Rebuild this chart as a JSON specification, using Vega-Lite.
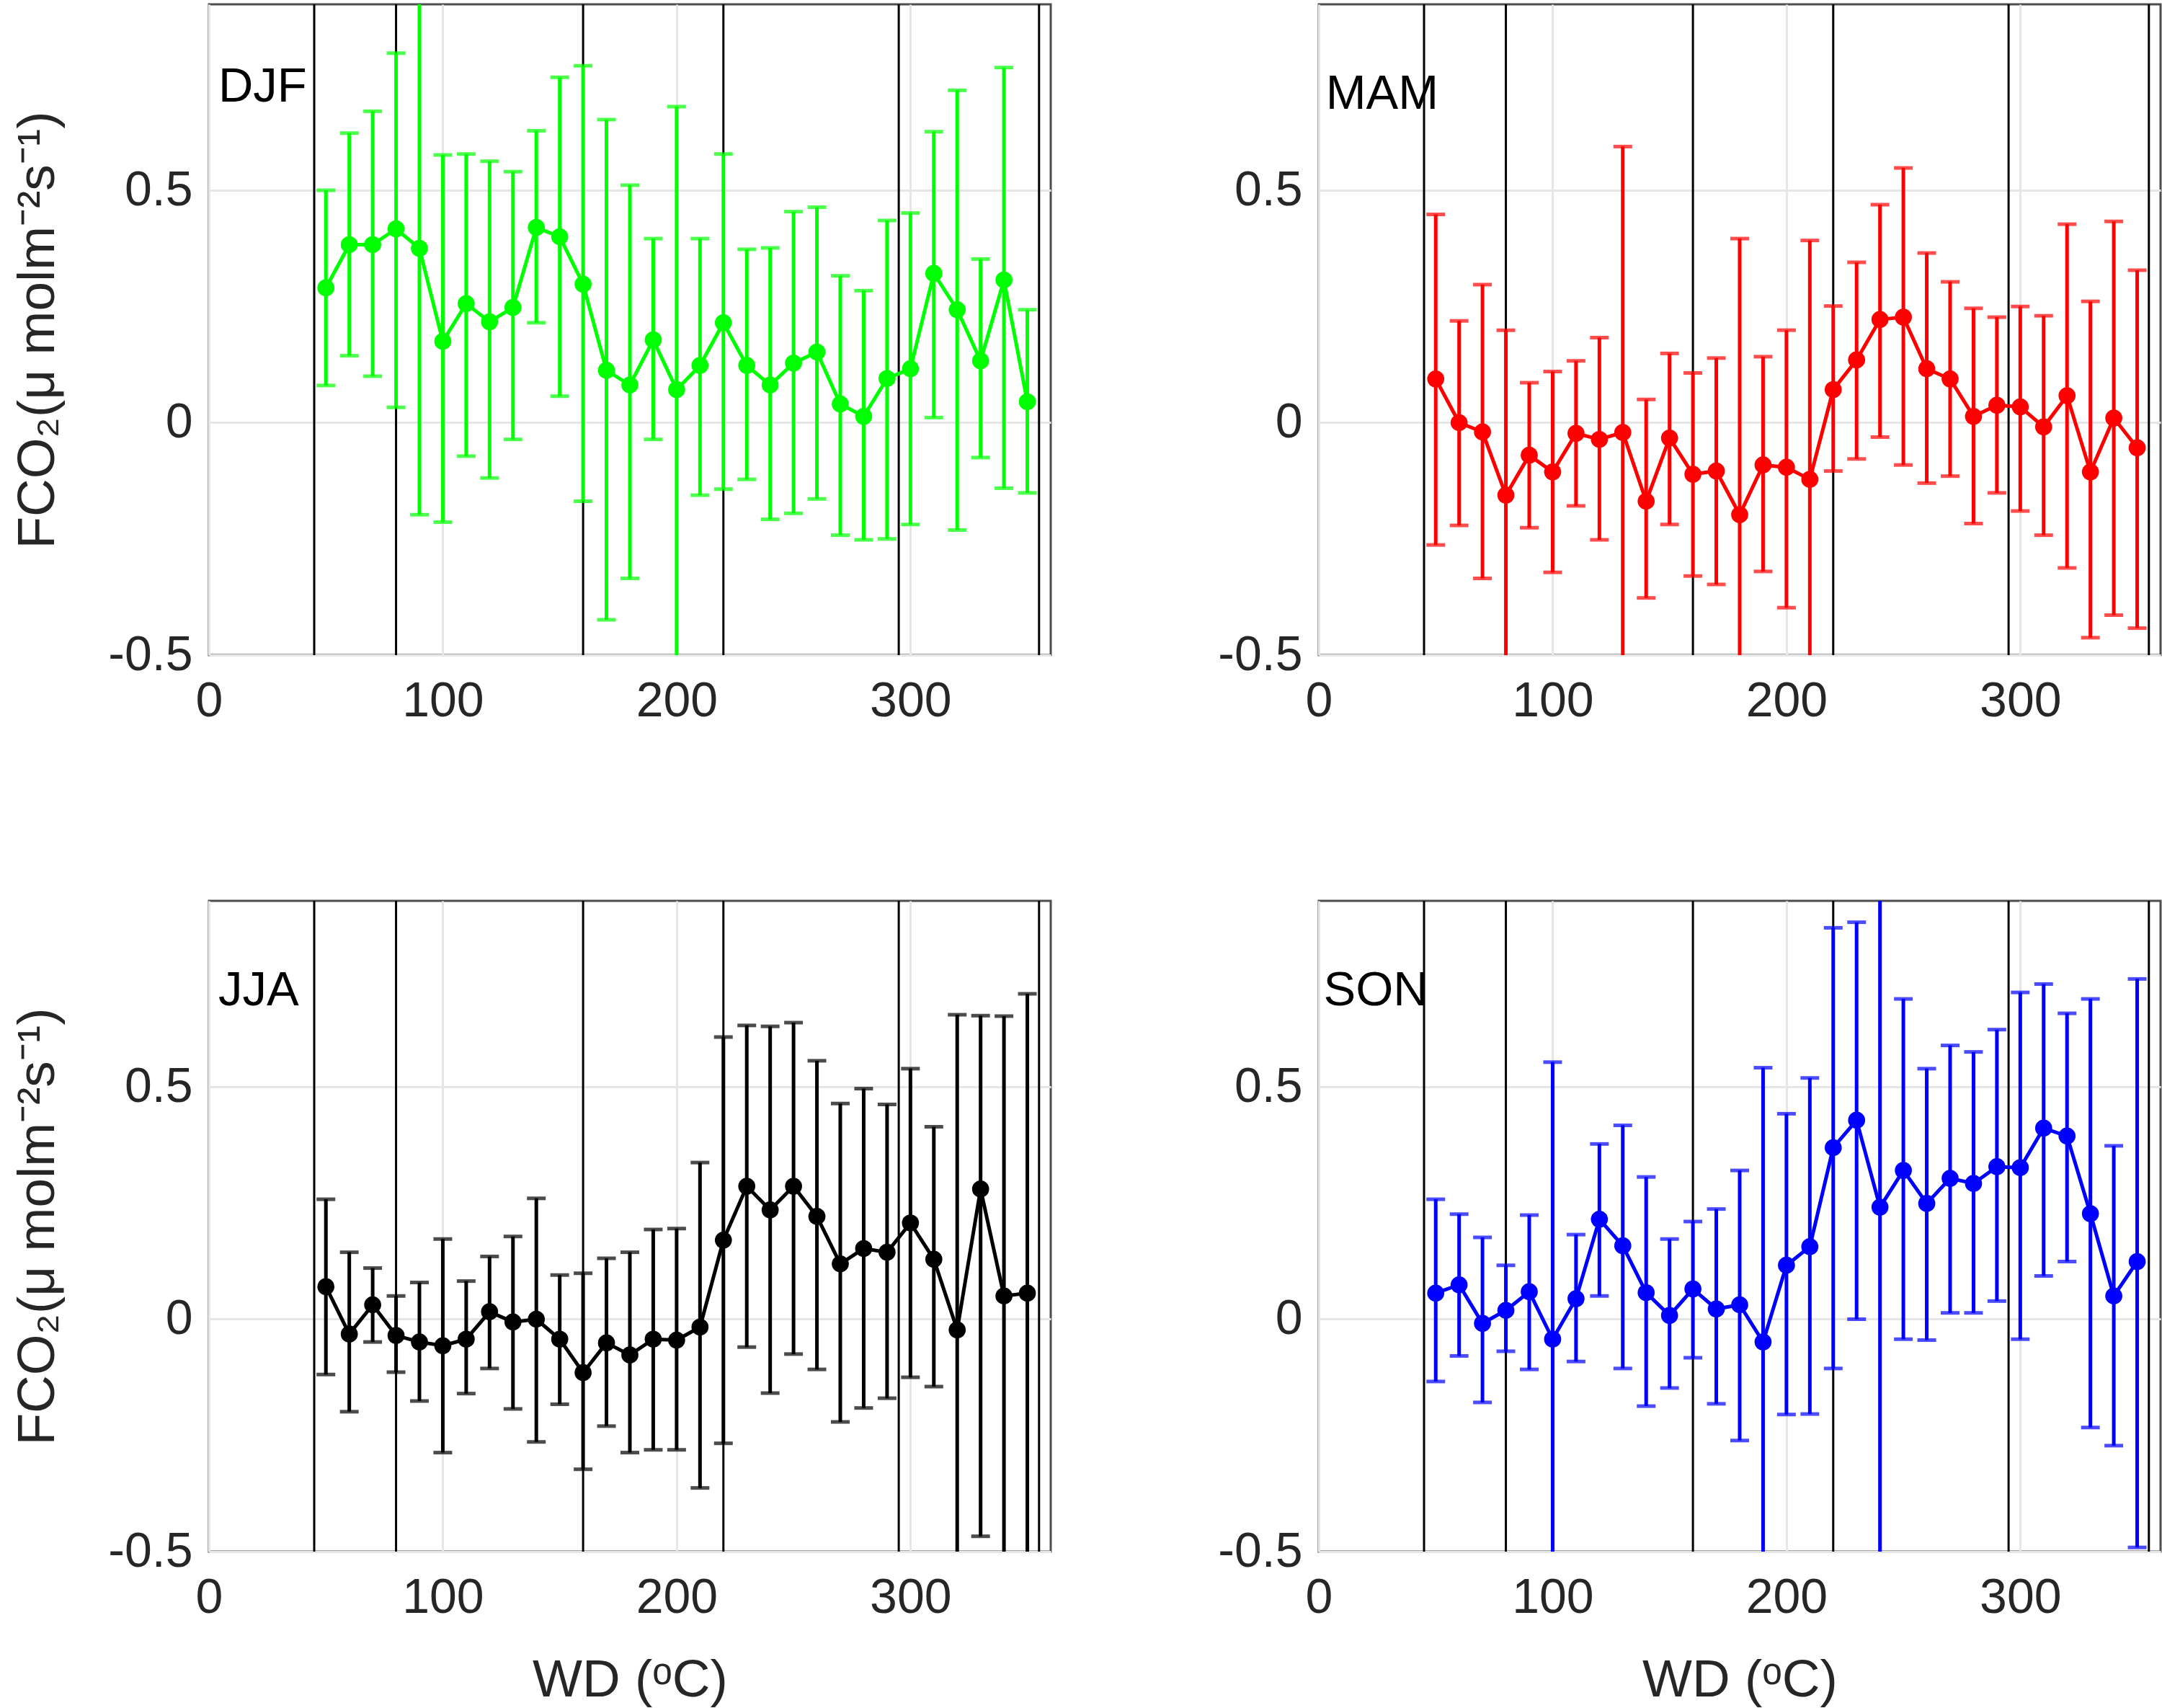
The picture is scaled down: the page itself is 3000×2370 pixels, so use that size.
{
  "$schema": "https://vega.github.io/schema/vega-lite/v6.json",
  "background": "#ffffff",
  "padding": {"left": 15, "top": 3, "right": 4, "bottom": 5},
  "datasets": {
    "vlines": [{"wd": 45}, {"wd": 80}, {"wd": 160}, {"wd": 220}, {"wd": 295}, {"wd": 355}],
    "labels": [
      {"season": "DJF", "wd": 4, "ly": 0.69},
      {"season": "MAM", "wd": 3, "ly": 0.675},
      {"season": "JJA", "wd": 4, "ly": 0.675},
      {"season": "SON", "wd": 2, "ly": 0.675}
    ],
    "pts": [
      {"season": "DJF", "wd": 50, "mean": 0.29, "lo": 0.08, "hi": 0.5},
      {"season": "DJF", "wd": 60, "mean": 0.383, "lo": 0.144, "hi": 0.623},
      {"season": "DJF", "wd": 70, "mean": 0.383, "lo": 0.1, "hi": 0.67},
      {"season": "DJF", "wd": 80, "mean": 0.417, "lo": 0.033, "hi": 0.795},
      {"season": "DJF", "wd": 90, "mean": 0.375, "lo": -0.198, "hi": 0.948},
      {"season": "DJF", "wd": 100, "mean": 0.175, "lo": -0.214, "hi": 0.576},
      {"season": "DJF", "wd": 110, "mean": 0.256, "lo": -0.072, "hi": 0.578},
      {"season": "DJF", "wd": 120, "mean": 0.217, "lo": -0.119, "hi": 0.5625},
      {"season": "DJF", "wd": 130, "mean": 0.248, "lo": -0.036, "hi": 0.54},
      {"season": "DJF", "wd": 140, "mean": 0.42, "lo": 0.215, "hi": 0.628},
      {"season": "DJF", "wd": 150, "mean": 0.4, "lo": 0.057, "hi": 0.743},
      {"season": "DJF", "wd": 160, "mean": 0.298, "lo": -0.169, "hi": 0.768},
      {"season": "DJF", "wd": 170, "mean": 0.1125, "lo": -0.424, "hi": 0.652},
      {"season": "DJF", "wd": 180, "mean": 0.081, "lo": -0.335, "hi": 0.511},
      {"season": "DJF", "wd": 190, "mean": 0.178, "lo": -0.036, "hi": 0.396},
      {"season": "DJF", "wd": 200, "mean": 0.071, "lo": -0.538, "hi": 0.68},
      {"season": "DJF", "wd": 210, "mean": 0.123, "lo": -0.156, "hi": 0.396},
      {"season": "DJF", "wd": 220, "mean": 0.215, "lo": -0.143, "hi": 0.578},
      {"season": "DJF", "wd": 230, "mean": 0.123, "lo": -0.122, "hi": 0.373},
      {"season": "DJF", "wd": 240, "mean": 0.081, "lo": -0.208, "hi": 0.376},
      {"season": "DJF", "wd": 250, "mean": 0.128, "lo": -0.195, "hi": 0.454},
      {"season": "DJF", "wd": 260, "mean": 0.152, "lo": -0.164, "hi": 0.4635},
      {"season": "DJF", "wd": 270, "mean": 0.04, "lo": -0.242, "hi": 0.316},
      {"season": "DJF", "wd": 280, "mean": 0.0135, "lo": -0.252, "hi": 0.284},
      {"season": "DJF", "wd": 290, "mean": 0.095, "lo": -0.25, "hi": 0.435},
      {"season": "DJF", "wd": 300, "mean": 0.116, "lo": -0.219, "hi": 0.451},
      {"season": "DJF", "wd": 310, "mean": 0.321, "lo": 0.011, "hi": 0.626},
      {"season": "DJF", "wd": 320, "mean": 0.243, "lo": -0.231, "hi": 0.715},
      {"season": "DJF", "wd": 330, "mean": 0.133, "lo": -0.075, "hi": 0.352},
      {"season": "DJF", "wd": 340, "mean": 0.307, "lo": -0.141, "hi": 0.764},
      {"season": "DJF", "wd": 350, "mean": 0.045, "lo": -0.151, "hi": 0.243},
      {"season": "MAM", "wd": 50, "mean": 0.094, "lo": -0.263, "hi": 0.448},
      {"season": "MAM", "wd": 60, "mean": 0.0, "lo": -0.221, "hi": 0.219},
      {"season": "MAM", "wd": 70, "mean": -0.02, "lo": -0.335, "hi": 0.297},
      {"season": "MAM", "wd": 80, "mean": -0.156, "lo": -0.511, "hi": 0.199},
      {"season": "MAM", "wd": 90, "mean": -0.07, "lo": -0.226, "hi": 0.086},
      {"season": "MAM", "wd": 100, "mean": -0.106, "lo": -0.322, "hi": 0.11},
      {"season": "MAM", "wd": 110, "mean": -0.023, "lo": -0.179, "hi": 0.133},
      {"season": "MAM", "wd": 120, "mean": -0.036, "lo": -0.252, "hi": 0.183},
      {"season": "MAM", "wd": 130, "mean": -0.021, "lo": -0.636, "hi": 0.594},
      {"season": "MAM", "wd": 140, "mean": -0.169, "lo": -0.377, "hi": 0.05},
      {"season": "MAM", "wd": 150, "mean": -0.033, "lo": -0.219, "hi": 0.149},
      {"season": "MAM", "wd": 160, "mean": -0.111, "lo": -0.33, "hi": 0.107},
      {"season": "MAM", "wd": 170, "mean": -0.104, "lo": -0.348, "hi": 0.139},
      {"season": "MAM", "wd": 180, "mean": -0.198, "lo": -0.79, "hi": 0.396},
      {"season": "MAM", "wd": 190, "mean": -0.091, "lo": -0.32, "hi": 0.142},
      {"season": "MAM", "wd": 200, "mean": -0.096, "lo": -0.398, "hi": 0.199},
      {"season": "MAM", "wd": 210, "mean": -0.122, "lo": -0.636, "hi": 0.392},
      {"season": "MAM", "wd": 220, "mean": 0.071, "lo": -0.104, "hi": 0.251},
      {"season": "MAM", "wd": 230, "mean": 0.135, "lo": -0.078, "hi": 0.345},
      {"season": "MAM", "wd": 240, "mean": 0.222, "lo": -0.031, "hi": 0.469},
      {"season": "MAM", "wd": 250, "mean": 0.227, "lo": -0.091, "hi": 0.548},
      {"season": "MAM", "wd": 260, "mean": 0.116, "lo": -0.13, "hi": 0.365},
      {"season": "MAM", "wd": 270, "mean": 0.094, "lo": -0.115, "hi": 0.303},
      {"season": "MAM", "wd": 280, "mean": 0.0135, "lo": -0.217, "hi": 0.246},
      {"season": "MAM", "wd": 290, "mean": 0.0375, "lo": -0.151, "hi": 0.227},
      {"season": "MAM", "wd": 300, "mean": 0.034, "lo": -0.19, "hi": 0.25},
      {"season": "MAM", "wd": 310, "mean": -0.009, "lo": -0.242, "hi": 0.23},
      {"season": "MAM", "wd": 320, "mean": 0.058, "lo": -0.3125, "hi": 0.427},
      {"season": "MAM", "wd": 330, "mean": -0.106, "lo": -0.4625, "hi": 0.261},
      {"season": "MAM", "wd": 340, "mean": 0.01, "lo": -0.414, "hi": 0.433},
      {"season": "MAM", "wd": 350, "mean": -0.054, "lo": -0.442, "hi": 0.328},
      {"season": "JJA", "wd": 50, "mean": 0.07, "lo": -0.119, "hi": 0.258},
      {"season": "JJA", "wd": 60, "mean": -0.032, "lo": -0.199, "hi": 0.144},
      {"season": "JJA", "wd": 70, "mean": 0.031, "lo": -0.049, "hi": 0.11},
      {"season": "JJA", "wd": 80, "mean": -0.035, "lo": -0.114, "hi": 0.05},
      {"season": "JJA", "wd": 90, "mean": -0.049, "lo": -0.176, "hi": 0.079},
      {"season": "JJA", "wd": 100, "mean": -0.057, "lo": -0.287, "hi": 0.1725},
      {"season": "JJA", "wd": 110, "mean": -0.043, "lo": -0.16, "hi": 0.082},
      {"season": "JJA", "wd": 120, "mean": 0.016, "lo": -0.106, "hi": 0.135},
      {"season": "JJA", "wd": 130, "mean": -0.006, "lo": -0.193, "hi": 0.178},
      {"season": "JJA", "wd": 140, "mean": 0.0, "lo": -0.264, "hi": 0.26},
      {"season": "JJA", "wd": 150, "mean": -0.043, "lo": -0.183, "hi": 0.095},
      {"season": "JJA", "wd": 160, "mean": -0.115, "lo": -0.323, "hi": 0.099},
      {"season": "JJA", "wd": 170, "mean": -0.051, "lo": -0.23, "hi": 0.131},
      {"season": "JJA", "wd": 180, "mean": -0.077, "lo": -0.287, "hi": 0.144},
      {"season": "JJA", "wd": 190, "mean": -0.043, "lo": -0.281, "hi": 0.193},
      {"season": "JJA", "wd": 200, "mean": -0.045, "lo": -0.281, "hi": 0.195},
      {"season": "JJA", "wd": 210, "mean": -0.017, "lo": -0.363, "hi": 0.337},
      {"season": "JJA", "wd": 220, "mean": 0.17, "lo": -0.267, "hi": 0.607},
      {"season": "JJA", "wd": 230, "mean": 0.286, "lo": -0.06, "hi": 0.632},
      {"season": "JJA", "wd": 240, "mean": 0.235, "lo": -0.159, "hi": 0.63},
      {"season": "JJA", "wd": 250, "mean": 0.286, "lo": -0.075, "hi": 0.638},
      {"season": "JJA", "wd": 260, "mean": 0.221, "lo": -0.108, "hi": 0.556},
      {"season": "JJA", "wd": 270, "mean": 0.119, "lo": -0.221, "hi": 0.464},
      {"season": "JJA", "wd": 280, "mean": 0.152, "lo": -0.191, "hi": 0.496},
      {"season": "JJA", "wd": 290, "mean": 0.144, "lo": -0.17, "hi": 0.462},
      {"season": "JJA", "wd": 300, "mean": 0.207, "lo": -0.125, "hi": 0.539},
      {"season": "JJA", "wd": 310, "mean": 0.129, "lo": -0.145, "hi": 0.414},
      {"season": "JJA", "wd": 320, "mean": -0.023, "lo": -0.7, "hi": 0.655},
      {"season": "JJA", "wd": 330, "mean": 0.28, "lo": -0.467, "hi": 0.653},
      {"season": "JJA", "wd": 340, "mean": 0.05, "lo": -0.55, "hi": 0.652},
      {"season": "JJA", "wd": 350, "mean": 0.056, "lo": -0.59, "hi": 0.7},
      {"season": "SON", "wd": 50, "mean": 0.056, "lo": -0.134, "hi": 0.258},
      {"season": "SON", "wd": 60, "mean": 0.074, "lo": -0.079, "hi": 0.226},
      {"season": "SON", "wd": 70, "mean": -0.009, "lo": -0.179, "hi": 0.176},
      {"season": "SON", "wd": 80, "mean": 0.019, "lo": -0.069, "hi": 0.116},
      {"season": "SON", "wd": 90, "mean": 0.059, "lo": -0.108, "hi": 0.224},
      {"season": "SON", "wd": 100, "mean": -0.043, "lo": -0.64, "hi": 0.553},
      {"season": "SON", "wd": 110, "mean": 0.044, "lo": -0.091, "hi": 0.182},
      {"season": "SON", "wd": 120, "mean": 0.215, "lo": 0.05, "hi": 0.377},
      {"season": "SON", "wd": 130, "mean": 0.158, "lo": -0.106, "hi": 0.417},
      {"season": "SON", "wd": 140, "mean": 0.057, "lo": -0.187, "hi": 0.306},
      {"season": "SON", "wd": 150, "mean": 0.008, "lo": -0.148, "hi": 0.1725},
      {"season": "SON", "wd": 160, "mean": 0.065, "lo": -0.083, "hi": 0.21},
      {"season": "SON", "wd": 170, "mean": 0.022, "lo": -0.182, "hi": 0.237},
      {"season": "SON", "wd": 180, "mean": 0.031, "lo": -0.261, "hi": 0.32},
      {"season": "SON", "wd": 190, "mean": -0.049, "lo": -0.64, "hi": 0.541},
      {"season": "SON", "wd": 200, "mean": 0.116, "lo": -0.205, "hi": 0.442},
      {"season": "SON", "wd": 210, "mean": 0.156, "lo": -0.204, "hi": 0.519},
      {"season": "SON", "wd": 220, "mean": 0.369, "lo": -0.106, "hi": 0.842},
      {"season": "SON", "wd": 230, "mean": 0.428, "lo": 0.0, "hi": 0.854},
      {"season": "SON", "wd": 240, "mean": 0.241, "lo": -0.56, "hi": 1.04},
      {"season": "SON", "wd": 250, "mean": 0.32, "lo": -0.043, "hi": 0.689},
      {"season": "SON", "wd": 260, "mean": 0.249, "lo": -0.045, "hi": 0.539},
      {"season": "SON", "wd": 270, "mean": 0.303, "lo": 0.0136, "hi": 0.589},
      {"season": "SON", "wd": 280, "mean": 0.292, "lo": 0.0136, "hi": 0.575},
      {"season": "SON", "wd": 290, "mean": 0.328, "lo": 0.039, "hi": 0.623},
      {"season": "SON", "wd": 300, "mean": 0.326, "lo": -0.043, "hi": 0.703},
      {"season": "SON", "wd": 310, "mean": 0.411, "lo": 0.093, "hi": 0.721},
      {"season": "SON", "wd": 320, "mean": 0.394, "lo": 0.124, "hi": 0.658},
      {"season": "SON", "wd": 330, "mean": 0.227, "lo": -0.233, "hi": 0.689},
      {"season": "SON", "wd": 340, "mean": 0.05, "lo": -0.272, "hi": 0.373},
      {"season": "SON", "wd": 350, "mean": 0.124, "lo": -0.491, "hi": 0.732}
    ]
  },
  "columns": 2,
  "spacing": {"row": 341, "column": 372},
  "bounds": "flush",
  "concat": [
    {
      "width": 1168, "height": 903,
      "data": {"name": "pts"},
      "transform": [{"filter": "datum.season === 'DJF'"}],
      "encoding": {"x": {"field": "wd", "type": "quantitative", "scale": {"domain": [0, 360], "nice": false}, "axis": {"values": [0, 100, 200, 300], "title": null}}},
      "layer": [
        {"data": {"name": "vlines"}, "mark": {"type": "rule", "color": "#000000", "strokeWidth": 3}, "encoding": {}},
        {"mark": {"type": "rule", "clip": true, "color": "#00ff00", "strokeWidth": 5},
         "encoding": {"y": {"field": "lo", "type": "quantitative", "scale": {"domain": [-0.5, 0.9], "nice": false, "zero": false}, "axis": {"values": [-0.5, 0, 0.5], "labelExpr": "'' + datum.value", "title": "FCO₂(μ molm⁻²s⁻¹)"}}, "y2": {"field": "hi"}}},
        {"mark": {"type": "tick", "orient": "horizontal", "clip": true, "color": "#00ff00", "thickness": 5, "size": 26},
         "encoding": {"y": {"field": "lo", "type": "quantitative", "scale": {"domain": [-0.5, 0.9], "nice": false, "zero": false}, "axis": {"title": "FCO₂(μ molm⁻²s⁻¹)"}}}},
        {"mark": {"type": "tick", "orient": "horizontal", "clip": true, "color": "#00ff00", "thickness": 5, "size": 26},
         "encoding": {"y": {"field": "hi", "type": "quantitative", "scale": {"domain": [-0.5, 0.9], "nice": false, "zero": false}, "axis": {"title": "FCO₂(μ molm⁻²s⁻¹)"}}}},
        {"mark": {"type": "line", "color": "#00ff00", "strokeWidth": 5, "point": {"filled": true, "size": 560, "color": "#00ff00"}},
         "encoding": {"y": {"field": "mean", "type": "quantitative", "scale": {"domain": [-0.5, 0.9], "nice": false, "zero": false}, "axis": {"title": "FCO₂(μ molm⁻²s⁻¹)"}}}},
        {"data": {"name": "labels"}, "transform": [{"filter": "datum.season === 'DJF'"}],
         "mark": {"type": "text", "align": "left", "baseline": "alphabetic", "fontSize": 67, "font": "Liberation Sans", "color": "#000000"},
         "encoding": {"y": {"field": "ly", "type": "quantitative", "scale": {"domain": [-0.5, 0.9], "nice": false, "zero": false}, "axis": {"title": "FCO₂(μ molm⁻²s⁻¹)"}}, "text": {"field": "season"}}}
      ]
    },
    {
      "width": 1168, "height": 903,
      "data": {"name": "pts"},
      "transform": [{"filter": "datum.season === 'MAM'"}],
      "encoding": {"x": {"field": "wd", "type": "quantitative", "scale": {"domain": [0, 360], "nice": false}, "axis": {"values": [0, 100, 200, 300], "title": null}}},
      "layer": [
        {"data": {"name": "vlines"}, "mark": {"type": "rule", "color": "#000000", "strokeWidth": 3}, "encoding": {}},
        {"mark": {"type": "rule", "clip": true, "color": "#ff0000", "strokeWidth": 5},
         "encoding": {"y": {"field": "lo", "type": "quantitative", "scale": {"domain": [-0.5, 0.9], "nice": false, "zero": false}, "axis": {"values": [-0.5, 0, 0.5], "labelExpr": "'' + datum.value", "title": null}}, "y2": {"field": "hi"}}},
        {"mark": {"type": "tick", "orient": "horizontal", "clip": true, "color": "#ff0000", "thickness": 5, "size": 26},
         "encoding": {"y": {"field": "lo", "type": "quantitative", "scale": {"domain": [-0.5, 0.9], "nice": false, "zero": false}, "axis": {"title": null}}}},
        {"mark": {"type": "tick", "orient": "horizontal", "clip": true, "color": "#ff0000", "thickness": 5, "size": 26},
         "encoding": {"y": {"field": "hi", "type": "quantitative", "scale": {"domain": [-0.5, 0.9], "nice": false, "zero": false}, "axis": {"title": null}}}},
        {"mark": {"type": "line", "color": "#ff0000", "strokeWidth": 5, "point": {"filled": true, "size": 560, "color": "#ff0000"}},
         "encoding": {"y": {"field": "mean", "type": "quantitative", "scale": {"domain": [-0.5, 0.9], "nice": false, "zero": false}, "axis": {"title": null}}}},
        {"data": {"name": "labels"}, "transform": [{"filter": "datum.season === 'MAM'"}],
         "mark": {"type": "text", "align": "left", "baseline": "alphabetic", "fontSize": 67, "font": "Liberation Sans", "color": "#000000"},
         "encoding": {"y": {"field": "ly", "type": "quantitative", "scale": {"domain": [-0.5, 0.9], "nice": false, "zero": false}, "axis": {"title": null}}, "text": {"field": "season"}}}
      ]
    },
    {
      "width": 1168, "height": 903,
      "data": {"name": "pts"},
      "transform": [{"filter": "datum.season === 'JJA'"}],
      "encoding": {"x": {"field": "wd", "type": "quantitative", "scale": {"domain": [0, 360], "nice": false}, "axis": {"values": [0, 100, 200, 300], "title": "WD (ᵒC)"}}},
      "layer": [
        {"data": {"name": "vlines"}, "mark": {"type": "rule", "color": "#000000", "strokeWidth": 3}, "encoding": {}},
        {"mark": {"type": "rule", "clip": true, "color": "#000000", "strokeWidth": 5},
         "encoding": {"y": {"field": "lo", "type": "quantitative", "scale": {"domain": [-0.5, 0.9], "nice": false, "zero": false}, "axis": {"values": [-0.5, 0, 0.5], "labelExpr": "'' + datum.value", "title": "FCO₂(μ molm⁻²s⁻¹)"}}, "y2": {"field": "hi"}}},
        {"mark": {"type": "tick", "orient": "horizontal", "clip": true, "color": "#000000", "thickness": 5, "size": 26},
         "encoding": {"y": {"field": "lo", "type": "quantitative", "scale": {"domain": [-0.5, 0.9], "nice": false, "zero": false}, "axis": {"title": "FCO₂(μ molm⁻²s⁻¹)"}}}},
        {"mark": {"type": "tick", "orient": "horizontal", "clip": true, "color": "#000000", "thickness": 5, "size": 26},
         "encoding": {"y": {"field": "hi", "type": "quantitative", "scale": {"domain": [-0.5, 0.9], "nice": false, "zero": false}, "axis": {"title": "FCO₂(μ molm⁻²s⁻¹)"}}}},
        {"mark": {"type": "line", "color": "#000000", "strokeWidth": 5, "point": {"filled": true, "size": 560, "color": "#000000"}},
         "encoding": {"y": {"field": "mean", "type": "quantitative", "scale": {"domain": [-0.5, 0.9], "nice": false, "zero": false}, "axis": {"title": "FCO₂(μ molm⁻²s⁻¹)"}}}},
        {"data": {"name": "labels"}, "transform": [{"filter": "datum.season === 'JJA'"}],
         "mark": {"type": "text", "align": "left", "baseline": "alphabetic", "fontSize": 67, "font": "Liberation Sans", "color": "#000000"},
         "encoding": {"y": {"field": "ly", "type": "quantitative", "scale": {"domain": [-0.5, 0.9], "nice": false, "zero": false}, "axis": {"title": "FCO₂(μ molm⁻²s⁻¹)"}}, "text": {"field": "season"}}}
      ]
    },
    {
      "width": 1168, "height": 903,
      "data": {"name": "pts"},
      "transform": [{"filter": "datum.season === 'SON'"}],
      "encoding": {"x": {"field": "wd", "type": "quantitative", "scale": {"domain": [0, 360], "nice": false}, "axis": {"values": [0, 100, 200, 300], "title": "WD (ᵒC)"}}},
      "layer": [
        {"data": {"name": "vlines"}, "mark": {"type": "rule", "color": "#000000", "strokeWidth": 3}, "encoding": {}},
        {"mark": {"type": "rule", "clip": true, "color": "#0000ff", "strokeWidth": 5},
         "encoding": {"y": {"field": "lo", "type": "quantitative", "scale": {"domain": [-0.5, 0.9], "nice": false, "zero": false}, "axis": {"values": [-0.5, 0, 0.5], "labelExpr": "'' + datum.value", "title": null}}, "y2": {"field": "hi"}}},
        {"mark": {"type": "tick", "orient": "horizontal", "clip": true, "color": "#0000ff", "thickness": 5, "size": 26},
         "encoding": {"y": {"field": "lo", "type": "quantitative", "scale": {"domain": [-0.5, 0.9], "nice": false, "zero": false}, "axis": {"title": null}}}},
        {"mark": {"type": "tick", "orient": "horizontal", "clip": true, "color": "#0000ff", "thickness": 5, "size": 26},
         "encoding": {"y": {"field": "hi", "type": "quantitative", "scale": {"domain": [-0.5, 0.9], "nice": false, "zero": false}, "axis": {"title": null}}}},
        {"mark": {"type": "line", "color": "#0000ff", "strokeWidth": 5, "point": {"filled": true, "size": 560, "color": "#0000ff"}},
         "encoding": {"y": {"field": "mean", "type": "quantitative", "scale": {"domain": [-0.5, 0.9], "nice": false, "zero": false}, "axis": {"title": null}}}},
        {"data": {"name": "labels"}, "transform": [{"filter": "datum.season === 'SON'"}],
         "mark": {"type": "text", "align": "left", "baseline": "alphabetic", "fontSize": 67, "font": "Liberation Sans", "color": "#000000"},
         "encoding": {"y": {"field": "ly", "type": "quantitative", "scale": {"domain": [-0.5, 0.9], "nice": false, "zero": false}, "axis": {"title": null}}, "text": {"field": "season"}}}
      ]
    }
  ],
  "config": {
    "view": {"stroke": "#4d4d4d", "strokeWidth": 3},
    "axis": {
      "labelFont": "Liberation Sans", "labelFontSize": 68, "labelColor": "#262626",
      "titleFont": "Liberation Sans", "titleFontSize": 73, "titleColor": "#262626", "titleFontWeight": "normal",
      "grid": true, "gridColor": "#e6e6e6", "gridWidth": 3,
      "domain": false, "ticks": false, "labelPadding": 23, "labelFlush": false, "labelOverlap": false
    },
    "axisX": {"labelPadding": 30, "titlePadding": 44},
    "axisY": {"titlePadding": 60}
  }
}
